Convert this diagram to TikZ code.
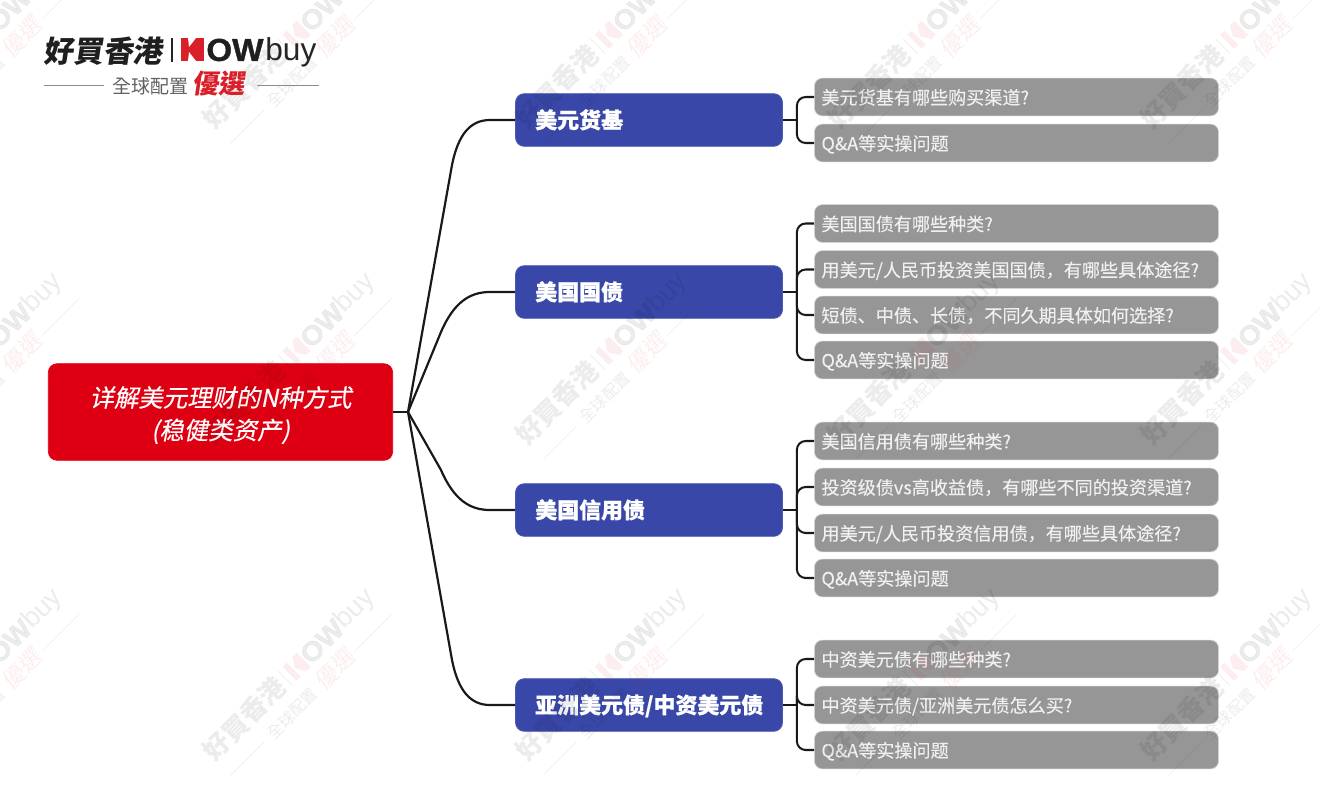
\documentclass[tikz,border=0pt]{standalone}
\usepackage{fontspec}
\usepackage{xcolor}
\setmainfont{Noto Sans CJK SC}
\newfontfamily\slantfont[FakeSlant=0.2,FakeBold=0.3]{Noto Sans CJK SC}
\newfontfamily\itemfont[FakeBold=0.25]{Noto Sans CJK SC}
\newfontfamily\topicfont[BoldFeatures={FakeBold=0.6}]{Noto Sans CJK SC}
\newfontfamily\tradfont[FakeSlant=0.15]{Noto Sans CJK TC}
\newfontfamily\tradplain{Noto Sans CJK TC}
\newfontfamily\latinfont{Liberation Sans}
\newfontfamily\heavyfont[BoldFeatures={FakeBold=1.2,FakeStretch=1.05}]{Liberation Sans}
\definecolor{rootred}{HTML}{DE0012}
\definecolor{topicblue}{HTML}{3948A8}
\definecolor{itemgray}{HTML}{969696}
\definecolor{logored}{HTML}{D9202A}
\tikzset{
  rootbox/.style={draw=rootred,fill=rootred,rounded corners=5pt,minimum width=196pt,minimum height=55pt,inner sep=0pt,align=center,text=white,font=\slantfont\fontsize{13.9}{18.5}\selectfont},
  topicbox/.style={draw=topicblue!90!white,fill=topicblue,rounded corners=5pt,text width=129.5pt,minimum width=152pt,minimum height=30pt,inner sep=0pt,align=left,text=white,text height=11pt,text depth=1.6pt,font=\topicfont\bfseries\fontsize{12.5}{14}\selectfont},
  itembox/.style={draw=black!18,fill=itemgray,rounded corners=4.5pt,text width=222pt,minimum width=230pt,minimum height=21.5pt,inner sep=0pt,align=left,text=white!94!black,text height=9.3pt,text depth=1pt,font=\itemfont\fontsize{10.3}{12}\selectfont},
  branch/.style={black!90,line width=1.25pt},
  stem/.style={black!90,line width=1.15pt,rounded corners=5pt},
}
\begin{document}
\begin{tikzpicture}[x=0.02cm,y=-0.02cm]
  \useasboundingbox (0,0) rectangle (1320,812);
  % main boxes
  \node[rootbox] (root) at (220.5,412) {\rule{0pt}{15.3pt}详解美元理财的N种方式\\(稳健类资产)};
  \node[topicbox] (usd) at (649,120) {美元货基};
  \node[topicbox] (treasury) at (649,292) {美国国债};
  \node[topicbox] (credit) at (649,510) {美国信用债};
  \node[topicbox] (asia) at (649,705) {亚洲美元债/中资美元债};
  % question boxes
  \node[itembox] (usdA) at (1016.5,97) {美元货基有哪些购买渠道?};
  \node[itembox] (usdB) at (1016.5,143) {Q\&A等实操问题};
  \node[itembox] (treasuryA) at (1016.5,223.5) {美国国债有哪些种类?};
  \node[itembox] (treasuryB) at (1016.5,269.5) {用美元/人民币投资美国国债，有哪些具体途径?};
  \node[itembox] (treasuryC) at (1016.5,315) {短债、中债、长债，不同久期具体如何选择?};
  \node[itembox] (treasuryD) at (1016.5,360) {Q\&A等实操问题};
  \node[itembox] (creditA) at (1016.5,441) {美国信用债有哪些种类?};
  \node[itembox] (creditB) at (1016.5,487) {投资级债vs高收益债，有哪些不同的投资渠道?};
  \node[itembox] (creditC) at (1016.5,533) {用美元/人民币投资信用债，有哪些具体途径?};
  \node[itembox] (creditD) at (1016.5,578) {Q\&A等实操问题};
  \node[itembox] (asiaA) at (1016.5,659) {中资美元债有哪些种类?};
  \node[itembox] (asiaB) at (1016.5,705) {中资美元债/亚洲美元债怎么买?};
  \node[itembox] (asiaC) at (1016.5,750) {Q\&A等实操问题};
  % branches
  \coordinate (hub) at (408,412);
  \draw[branch] (root.east) -- (hub);
  \draw[branch] (hub) -- (452,165) .. controls (458,135) and (470,120) .. (490,120) -- (usd.west);
  \draw[branch] (hub) -- (441,332) .. controls (454,302) and (470,292) .. (490,292) -- (treasury.west);
  \draw[branch] (hub) -- (441,470) .. controls (454,500) and (470,510) .. (490,510) -- (credit.west);
  \draw[branch] (hub) -- (452,660) .. controls (458,690) and (470,705) .. (490,705) -- (asia.west);
  \foreach \topic/\items in {usd/{usdA,usdB},treasury/{treasuryA,treasuryB,treasuryC,treasuryD},credit/{creditA,creditB,creditC,creditD},asia/{asiaA,asiaB,asiaC}}{
    \coordinate (\topic hub) at ([xshift=14*0.02cm]\topic.east);
    \draw[stem] (\topic.east) -- (\topic hub);
    \foreach \item in \items
      \draw[stem] (\topic hub) |- (\item.west);
  }
  % watermark
  \foreach \wx in {-105,207.5,520,832.5,1145}
    \foreach \wy in {124,440,756}{
      \begin{scope}[shift={(\wx,\wy)},rotate=45,transform shape,opacity=0.075]
        \node[anchor=west,inner sep=0pt,font=\tradplain\bfseries\fontsize{14.8}{15}\selectfont] (wmA\wx\wy) at (0,0) {好買香港};
        \draw[black,line width=0.4pt] (110,-10) -- (110,10);
        \fill[logored] (116,-10) -- (122,-10) -- (122,10) -- (116,10) -- cycle;
        \fill[logored] (136,-10) -- (130,-10) -- (124,0) -- (130,10) -- (136,10) -- cycle;
        \node[anchor=west,inner sep=0pt,font=\heavyfont\bfseries\fontsize{15.5}{15.5}\selectfont] (wmC\wx\wy) at (137,0) {OW};
        \node[anchor=west,inner sep=0pt,font=\latinfont\fontsize{15.5}{15.5}\selectfont] (wmD\wx\wy) at (186,1) {buy};
        \node[anchor=west,inner sep=0pt,font=\tradplain\fontsize{9}{9}\selectfont] (wmE\wx\wy) at (58,30) {全球配置};
        \node[anchor=west,inner sep=0pt,text=logored,font=\tradfont\fontsize{13}{13}\selectfont] (wmF\wx\wy) at (128,28) {優選};
        \draw[black,line width=0.3pt] (3,30) -- (50,30);
        \draw[black,line width=0.3pt] (178,30) -- (230,30);
      \end{scope}
    }
  % logo
  \node[anchor=west,inner sep=0pt,text=black!88,font=\tradfont\bfseries\fontsize{17}{17}\selectfont] (logoname) at (43,51) {好買香港};
  \draw[black!85,line width=0.7pt] (172,38) -- (172,62);
  \fill[logored] (181,38) rectangle (204,61);
  \fill[white] (188,38) -- (196,38) -- (189,47) -- cycle;
  \fill[white] (188,61) -- (196,61) -- (189,52) -- cycle;
  \node[anchor=west,inner sep=0pt,text=black!88,font=\heavyfont\bfseries\fontsize{18}{18}\selectfont] (logoow) at (206,50) {OW};
  \node[anchor=west,inner sep=0pt,text=black!85,font=\latinfont\fontsize{18}{18}\selectfont] (logobuy) at (265,52) {buy};
  \node[anchor=west,inner sep=0pt,text=black!62,font=\tradplain\fontsize{10.8}{11}\selectfont] (logosub) at (112,86) {全球配置};
  \node[anchor=west,inner sep=0pt,text=logored,font=\tradfont\bfseries\fontsize{15}{15}\selectfont] (logopick) at (192,84) {優選};
  \draw[black!45,line width=0.4pt] (44,85) -- (104,85);
  \draw[black!45,line width=0.4pt] (257,85) -- (319,85);
\end{tikzpicture}
\end{document}
